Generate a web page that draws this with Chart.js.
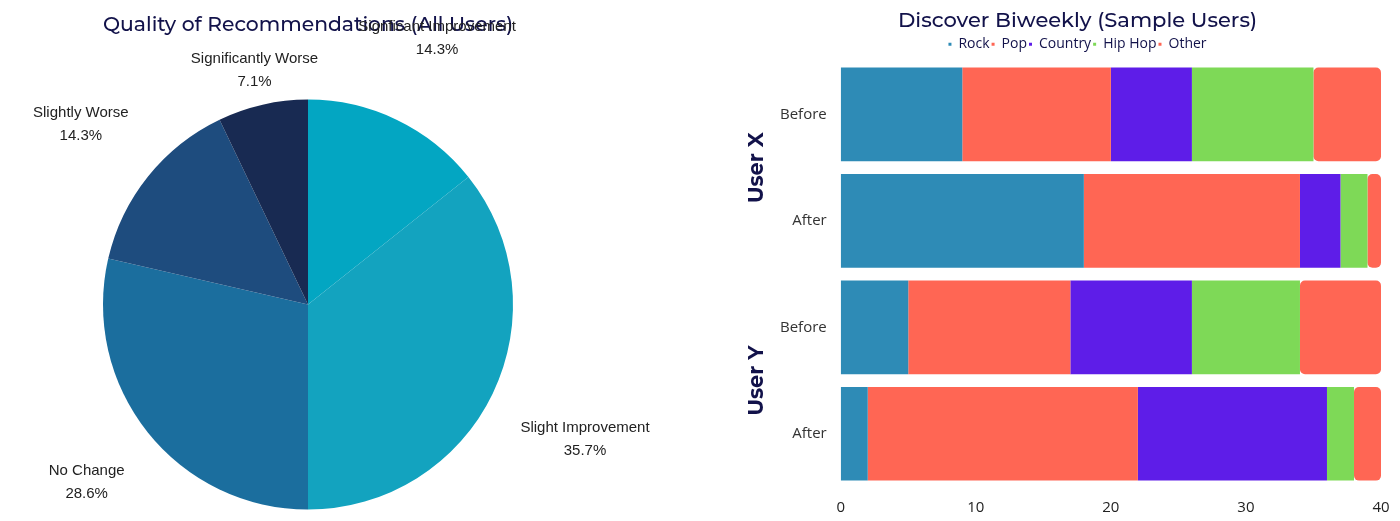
<!DOCTYPE html><html><head><script src="https://cdn.jsdelivr.net/npm/chart.js@4/dist/chart.umd.min.js"></script>
<style>body{margin:0;background:#fff;width:1400px;height:521px;overflow:hidden;position:relative}
#a{position:absolute;left:0;top:0;width:700px;height:521px}#b{position:absolute;left:700px;top:0;width:700px;height:521px}</style></head><body>
<div id="a"><canvas id="c1"></canvas></div><div id="b"><canvas id="c2"></canvas></div>
<script>
const pieLabels=["Signficant Improvement","Slight Improvement","No Change","Slightly Worse","Significantly Worse"];
const pieValues=[14.3,35.7,28.6,14.3,7.1];
const pieColors=["#03a6c2","#13a3bf","#1b6e9e","#1e4c7e","#182a52"];
const barCats=["Before","After","Before","After"];
const groups=["User X","User Y"];
const rock=[9,18,5,2],pop=[11,16,12,20],country=[6,3,9,14],hiphop=[9,2,8,2],other=[5,1,6,2];
const ticksX=[0,10,20,30,40];
const titleFont={family:"Montserrat, 'Noto Sans', sans-serif",size:21,weight:'500'};
const pieLbl={id:'pl',afterDatasetsDraw(ch){const c=ch.ctx;const m=ch.getDatasetMeta(0);c.save();c.font="15px 'Liberation Sans', Arial";c.fillStyle="#222";c.textAlign="center";
const f=[1.45,1.5,1.38,1.42,1.18];
m.data.forEach((a,i)=>{const ang=(a.startAngle+a.endAngle)/2;const r=a.outerRadius*f[i];const x=a.x+Math.cos(ang)*r,y=a.y+Math.sin(ang)*r;c.fillText(pieLabels[i],x,y-6);c.fillText(pieValues[i].toFixed(1)+"%",x,y+17);});c.restore();}};
new Chart(c1,{type:'pie',data:{labels:pieLabels,datasets:[{data:pieValues,backgroundColor:pieColors,borderWidth:0}]},
options:{responsive:true,maintainAspectRatio:false,animation:false,layout:{padding:{left:103,right:187,top:12,bottom:9}},plugins:{legend:{display:false},tooltip:{enabled:false},
title:{display:true,text:"Quality of Recommendations (All Users)",color:"#12124a",font:titleFont,padding:{top:0,bottom:60}}}},plugins:[pieLbl]});
const grp={id:'gl',afterDraw(ch){const c=ch.ctx,y=ch.scales.y;c.save();c.font="bold 21px Montserrat, 'Noto Sans', sans-serif";c.fillStyle="#12124a";c.textAlign="center";c.textBaseline="middle";
groups.forEach((g,i)=>{const yc=(y.getPixelForValue(i*2)+y.getPixelForValue(i*2+1))/2;c.save();c.translate(57,yc);c.rotate(-Math.PI/2);c.fillText(g,0,0);c.restore();});c.restore();}};
const mk=(l,d,col)=>({label:l,data:d,backgroundColor:col,borderWidth:0,borderRadius:5,borderSkipped:false,barPercentage:0.88,categoryPercentage:1});
new Chart(c2,{type:'bar',data:{labels:barCats,datasets:[mk("Rock",rock,"#2e8bb6"),mk("Pop",pop,"#ff6654"),mk("Country",country,"#5e1de8"),mk("Hip Hop",hiphop,"#7ed957"),mk("Other",other,"#ff6654")]},
options:{indexAxis:'y',responsive:true,maintainAspectRatio:false,animation:false,layout:{padding:{left:74,right:19,bottom:0}},
scales:{x:{stacked:true,min:0,max:40,grid:{display:false},border:{display:false},ticks:{stepSize:10,color:"#222",padding:4,font:{family:"'Open Sans'",size:15}}},
y:{stacked:true,grid:{display:false},border:{display:false},ticks:{color:"#333",padding:6,font:{family:"'Open Sans'",size:15}}}},
plugins:{tooltip:{enabled:false},title:{display:true,text:"Discover Biweekly (Sample Users)",color:"#12124a",font:titleFont,padding:{top:8,bottom:2}},
legend:{labels:{boxWidth:3,boxHeight:3,padding:2,color:"#12124a",font:{family:"'Open Sans'",size:14}}}}},plugins:[grp]});
</script></body></html>
